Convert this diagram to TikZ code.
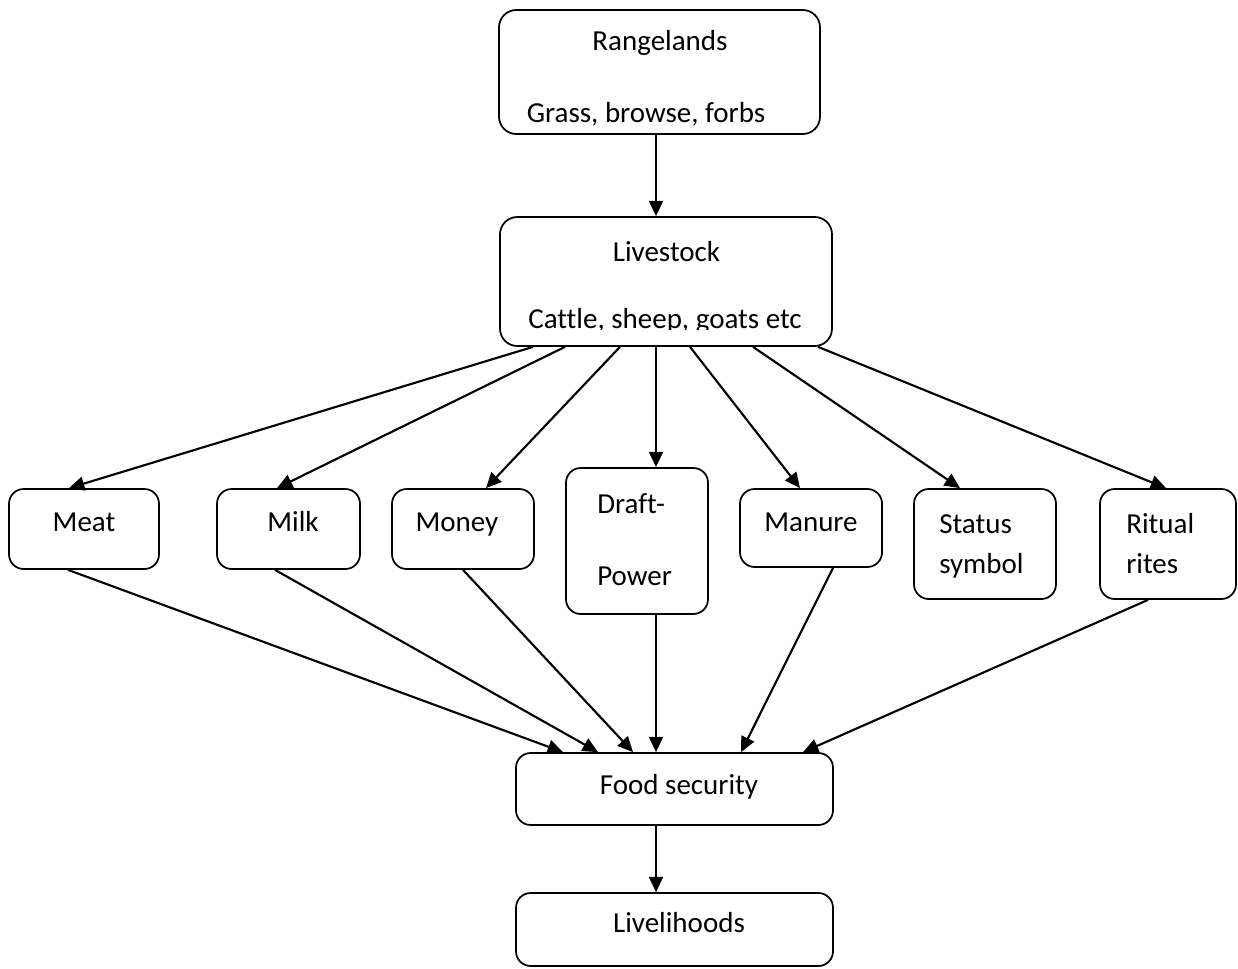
\documentclass[tikz,border=0pt]{standalone}
\usepackage{fontspec}
\setmainfont{Carlito}[Ligatures=NoCommon]
\usetikzlibrary{arrows.meta}
\begin{document}
\begin{tikzpicture}[x=0.75pt,y=-0.75pt,
  box/.style={draw, line width=1.3pt, rounded corners=11pt, inner sep=0pt, anchor=center},
  lbl/.style={inner sep=0pt, anchor=base, font=\fontsize{21.75}{30}\selectfont},
  lblw/.style={lbl, anchor=base west},
  arr/.style={line width=1.6pt, -{Triangle[length=11.5pt,width=10.5pt]}}]
\useasboundingbox (0,0) rectangle (1238,968);
% boxes
\node[box, rounded corners=13pt, minimum width=321*0.75pt, minimum height=124*0.75pt] (rang) at (659.5,72) {};
\node[box, rounded corners=13pt, minimum width=332*0.75pt, minimum height=129*0.75pt] (live) at (666,281.5) {};
\node[box, minimum width=150*0.75pt, minimum height=80*0.75pt] (meat) at (84,529) {};
\node[box, minimum width=143*0.75pt, minimum height=80*0.75pt] (milk) at (288.5,529) {};
\node[box, minimum width=142*0.75pt, minimum height=80*0.75pt] (money) at (463,529) {};
\node[box, minimum width=142*0.75pt, minimum height=146*0.75pt] (draft) at (637,541) {};
\node[box, minimum width=142*0.75pt, minimum height=78*0.75pt] (manure) at (811,528) {};
\node[box, minimum width=142*0.75pt, minimum height=110*0.75pt] (status) at (985,544) {};
\node[box, minimum width=136*0.75pt, minimum height=110*0.75pt] (ritual) at (1168,544) {};
\node[box, minimum width=317*0.75pt, minimum height=72*0.75pt] (food) at (674.5,789) {};
\node[box, minimum width=317*0.75pt, minimum height=73*0.75pt] (liveli) at (674.5,929.5) {};
% texts
\node[lbl] (trang) at (660,50) {Rangelands};
\node[lbl] (tgrass) at (646,122) {Grass, browse, forbs};
\node[lbl] (tlive) at (666.5,261) {Livestock};
\begin{scope}
\clip (500,217) rectangle (832,329);
\node[lbl] (tcattle) at (665,328) {Cattle, sheep, goats etc};
\end{scope}
\node[lbl] (tmeat) at (84,531) {Meat};
\node[lbl] (tmilk) at (293,531) {Milk};
\node[lbl] (tmoney) at (457,531) {Money};
\node[lblw] (tdraft) at (597,513) {Draft-};
\node[lblw] (tpower) at (597,585) {Power};
\node[lbl] (tmanure) at (811,531) {Manure};
\node[lblw] (tstatus) at (939,533) {Status};
\node[lblw] (tsymbol) at (939,573) {symbol};
\node[lblw] (tritual) at (1126,533) {Ritual};
\node[lblw] (trites) at (1126,573) {rites};
\node[lbl] (tfood) at (679,794) {Food security};
\node[lbl] (tliveli) at (679,932) {Livelihoods};
% connectors
\draw[arr] (656,0 |- rang.south) -- (656,0 |- live.north);
\draw[arr] (533,0 |- live.south) -- (69,0 |- meat.north);
\draw[arr] (565,0 |- live.south) -- (277,0 |- milk.north);
\draw[arr] (620,0 |- live.south) -- (486,0 |- money.north);
\draw[arr] (656,0 |- live.south) -- (656,0 |- draft.north);
\draw[arr] (690,0 |- live.south) -- (800,0 |- manure.north);
\draw[arr] (753,0 |- live.south) -- (960,0 |- status.north);
\draw[arr] (818,0 |- live.south) -- (1166,0 |- ritual.north);
\draw[arr] (68,0 |- meat.south) -- (563,0 |- food.north);
\draw[arr] (275,0 |- milk.south) -- (598,0 |- food.north);
\draw[arr] (463,0 |- money.south) -- (633,0 |- food.north);
\draw[arr] (656,0 |- draft.south) -- (656,0 |- food.north);
\draw[arr] (833,0 |- manure.south) -- (741,0 |- food.north);
\draw[arr] (1148,0 |- ritual.south) -- (803,0 |- food.north);
\draw[arr] (656,0 |- food.south) -- (656,0 |- liveli.north);
\end{tikzpicture}
\end{document}
